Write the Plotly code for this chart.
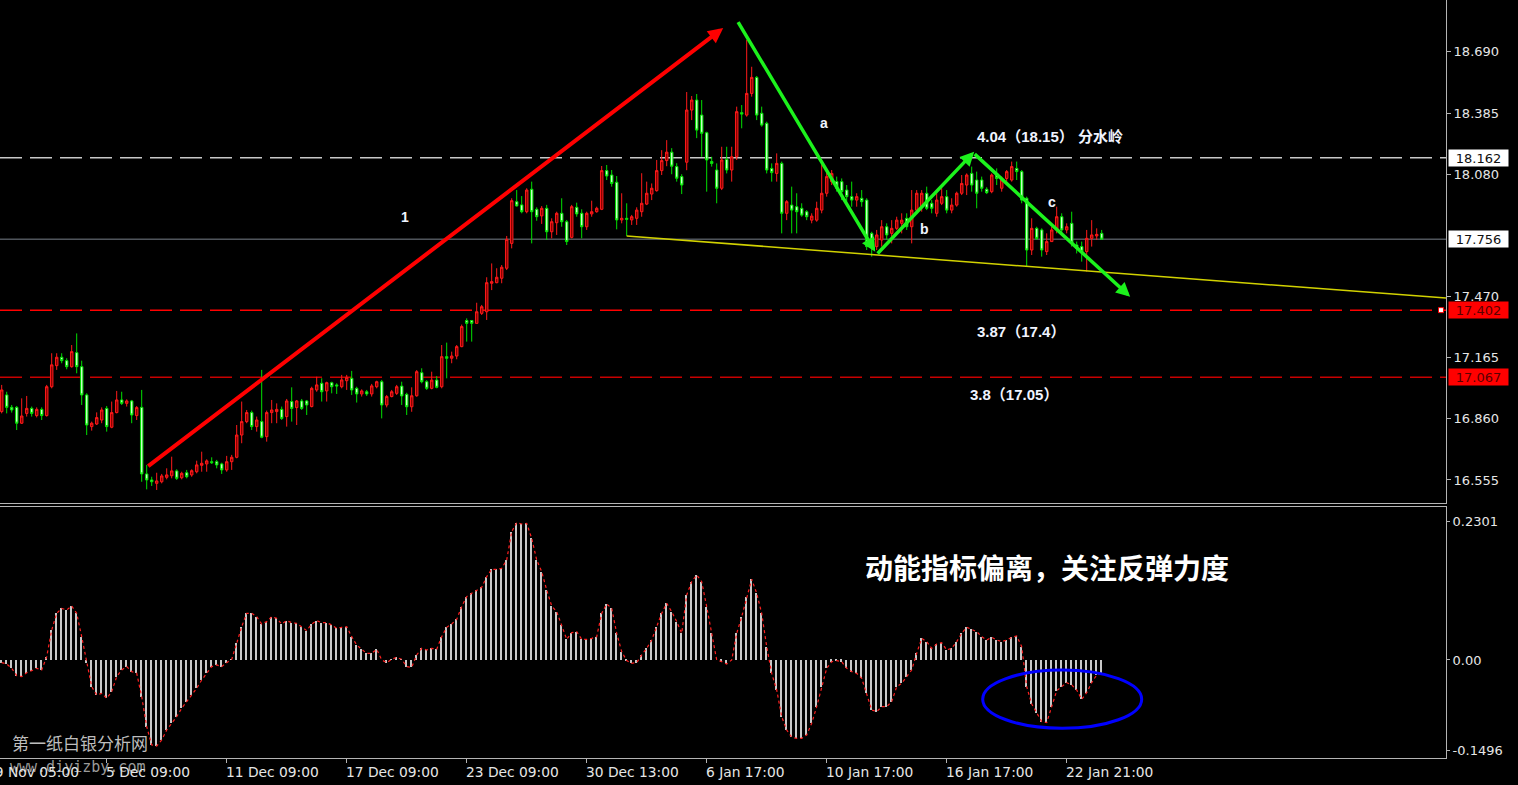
import plotly.graph_objects as go

# ---- 4H silver candles (bar index on x, price on y) ----
open_px = [
    16.896, 16.979, 16.917, 16.917, 16.838, 16.887, 16.912, 16.876, 16.907, 16.876,
    17.020, 17.125, 17.167, 17.150, 17.120, 17.190, 17.120, 16.979, 16.821, 16.834,
    16.854, 16.912, 16.818, 16.891, 16.954, 16.937, 16.949, 16.876, 16.917, 16.585,
    16.555, 16.538, 16.546, 16.568, 16.576, 16.600, 16.566, 16.591, 16.580, 16.596,
    16.628, 16.635, 16.646, 16.646, 16.635, 16.605, 16.646, 16.668, 16.779, 16.846,
    16.891, 16.821, 16.846, 16.771, 16.891, 16.896, 16.907, 16.871, 16.946, 16.916,
    16.949, 16.949, 16.921, 17.004, 17.037, 16.999, 17.040, 17.029, 17.020, 17.050,
    17.062, 17.012, 16.984, 16.995, 16.984, 17.020, 17.045, 16.929, 16.971, 16.987,
    17.023, 16.982, 16.920, 16.975, 17.090, 17.045, 17.012, 17.053, 17.020, 17.170,
    17.162, 17.173, 17.220, 17.350, 17.350, 17.336, 17.386, 17.394, 17.536, 17.539,
    17.561, 17.611, 17.735, 17.943, 17.927, 17.893, 18.005, 17.905, 17.872, 17.910,
    17.793, 17.838, 17.885, 17.843, 17.765, 17.915, 17.885, 17.818, 17.882, 17.893,
    17.905, 18.098, 18.076, 18.040, 17.852, 17.860, 17.852, 17.860, 17.893, 17.931,
    17.981, 17.998, 18.098, 18.148, 18.190, 18.118, 18.068, 18.140, 18.400, 18.450,
    18.375, 18.287, 18.143, 18.101, 18.010, 18.154, 18.101, 18.167, 18.387, 18.375,
    18.483, 18.563, 18.384, 18.334, 18.109, 18.084, 18.134, 17.885, 17.926, 17.918,
    17.910, 17.893, 17.851, 17.851, 17.901, 17.985, 18.043, 18.043, 18.043, 18.001,
    17.968, 17.951, 17.960, 17.951, 17.785, 17.719, 17.752, 17.818, 17.785, 17.810,
    17.835, 17.860, 17.818, 17.901, 17.918, 17.985, 17.935, 17.885, 17.935, 17.968,
    17.901, 17.926, 17.985, 18.026, 18.084, 18.051, 18.051, 18.005, 17.993, 18.084,
    18.010, 18.059, 18.051, 18.109, 18.093, 17.960, 17.702, 17.810, 17.802, 17.694,
    17.744, 17.802, 17.868, 17.802, 17.835, 17.727, 17.719, 17.694, 17.760, 17.772,
    17.785,
]
high_px = [
    17.029, 16.995, 16.929, 16.924, 16.962, 16.974, 16.921, 16.917, 16.917, 17.029,
    17.187, 17.187, 17.187, 17.162, 17.228, 17.286, 17.150, 16.987, 16.846, 16.892,
    16.917, 16.924, 16.946, 16.999, 16.995, 16.957, 16.954, 16.924, 17.004, 16.630,
    16.571, 16.591, 16.585, 16.613, 16.671, 16.608, 16.596, 16.605, 16.608, 16.651,
    16.696, 16.658, 16.668, 16.655, 16.641, 16.675, 16.680, 16.829, 16.946, 16.904,
    16.901, 16.871, 17.104, 16.901, 16.954, 16.937, 16.921, 16.959, 17.017, 16.954,
    16.959, 16.954, 17.020, 17.070, 17.062, 17.045, 17.045, 17.037, 17.079, 17.079,
    17.099, 17.020, 17.007, 17.004, 17.034, 17.050, 17.054, 16.979, 17.004, 17.029,
    17.045, 16.990, 17.017, 17.103, 17.112, 17.053, 17.095, 17.073, 17.228, 17.240,
    17.195, 17.228, 17.330, 17.361, 17.353, 17.439, 17.428, 17.566, 17.635, 17.611,
    17.627, 17.772, 17.960, 18.001, 17.971, 18.010, 18.043, 17.915, 17.921, 17.927,
    17.860, 17.893, 17.960, 17.852, 17.927, 17.938, 17.905, 17.893, 17.948, 17.918,
    18.121, 18.126, 18.101, 18.071, 17.985, 17.935, 17.877, 17.915, 18.085, 18.043,
    18.034, 18.151, 18.200, 18.250, 18.210, 18.135, 18.080, 18.490, 18.470, 18.480,
    18.450, 18.292, 18.167, 18.134, 18.217, 18.217, 18.217, 18.417, 18.425, 18.750,
    18.616, 18.570, 18.417, 18.342, 18.134, 18.184, 18.143, 17.951, 18.018, 17.985,
    17.935, 17.901, 17.885, 17.943, 18.134, 18.093, 18.101, 18.068, 18.059, 18.026,
    18.043, 17.985, 18.001, 17.960, 17.793, 17.802, 17.851, 17.835, 17.851, 17.868,
    17.885, 17.885, 18.001, 18.001, 18.001, 18.018, 17.951, 17.985, 18.010, 18.001,
    17.960, 17.993, 18.076, 18.084, 18.118, 18.093, 18.068, 18.015, 18.084, 18.109,
    18.068, 18.101, 18.143, 18.143, 18.101, 17.968, 17.860, 17.818, 17.810, 17.785,
    17.818, 17.918, 17.885, 17.835, 17.893, 17.744, 17.744, 17.802, 17.851, 17.810,
    17.802,
]
low_px = [
    16.887, 16.887, 16.891, 16.804, 16.834, 16.871, 16.871, 16.867, 16.854, 16.871,
    17.012, 17.104, 17.137, 17.107, 17.115, 17.087, 16.929, 16.779, 16.801, 16.829,
    16.838, 16.796, 16.813, 16.887, 16.929, 16.921, 16.838, 16.854, 16.546, 16.508,
    16.525, 16.505, 16.538, 16.558, 16.563, 16.555, 16.558, 16.563, 16.571, 16.588,
    16.596, 16.596, 16.635, 16.613, 16.585, 16.596, 16.605, 16.663, 16.738, 16.838,
    16.804, 16.796, 16.763, 16.746, 16.838, 16.838, 16.854, 16.821, 16.846, 16.829,
    16.904, 16.879, 16.917, 16.995, 16.946, 16.946, 16.987, 16.984, 17.012, 17.004,
    16.979, 16.941, 16.971, 16.974, 16.971, 17.012, 16.862, 16.917, 16.967, 16.979,
    16.929, 16.879, 16.895, 16.970, 17.037, 17.004, 17.007, 17.012, 17.012, 17.062,
    17.137, 17.157, 17.217, 17.245, 17.245, 17.336, 17.378, 17.353, 17.502, 17.536,
    17.536, 17.602, 17.710, 17.918, 17.885, 17.885, 17.735, 17.848, 17.832, 17.752,
    17.760, 17.777, 17.818, 17.727, 17.760, 17.868, 17.760, 17.802, 17.868, 17.888,
    17.901, 18.051, 18.018, 17.805, 17.835, 17.772, 17.827, 17.827, 17.868, 17.926,
    17.951, 17.993, 18.076, 18.120, 18.080, 18.043, 17.981, 18.100, 18.350, 18.260,
    18.167, 17.993, 18.118, 17.935, 18.001, 18.084, 18.043, 18.151, 18.309, 18.367,
    18.467, 18.350, 18.317, 18.084, 18.043, 18.043, 17.785, 17.851, 17.785, 17.785,
    17.868, 17.851, 17.835, 17.843, 17.885, 17.968, 18.026, 17.993, 17.951, 17.943,
    17.918, 17.918, 17.918, 17.702, 17.669, 17.702, 17.719, 17.752, 17.735, 17.802,
    17.785, 17.802, 17.735, 17.885, 17.893, 17.901, 17.885, 17.868, 17.926, 17.885,
    17.885, 17.918, 17.976, 17.976, 17.993, 17.910, 17.993, 17.981, 17.985, 18.026,
    17.993, 18.043, 18.043, 18.051, 17.935, 17.619, 17.677, 17.752, 17.669, 17.677,
    17.744, 17.785, 17.785, 17.785, 17.719, 17.685, 17.644, 17.594, 17.719, 17.752,
    17.752,
]
close_px = [
    17.004, 16.917, 16.904, 16.838, 16.874, 16.912, 16.887, 16.907, 16.876, 17.020,
    17.129, 17.167, 17.150, 17.120, 17.195, 17.120, 16.979, 16.829, 16.838, 16.866,
    16.904, 16.821, 16.891, 16.954, 16.937, 16.949, 16.879, 16.916, 16.585, 16.555,
    16.546, 16.550, 16.575, 16.580, 16.600, 16.563, 16.588, 16.571, 16.601, 16.630,
    16.638, 16.650, 16.641, 16.630, 16.605, 16.646, 16.668, 16.779, 16.846, 16.891,
    16.821, 16.854, 16.768, 16.891, 16.904, 16.907, 16.862, 16.949, 16.912, 16.949,
    16.912, 16.929, 17.012, 17.029, 16.995, 17.040, 17.020, 17.024, 17.054, 17.067,
    17.004, 16.984, 16.999, 16.984, 17.024, 17.045, 16.929, 16.971, 16.995, 17.020,
    16.974, 16.920, 16.975, 17.095, 17.045, 17.012, 17.053, 17.017, 17.170, 17.162,
    17.173, 17.220, 17.320, 17.336, 17.336, 17.394, 17.419, 17.539, 17.544, 17.566,
    17.616, 17.755, 17.948, 17.922, 17.893, 18.001, 17.893, 17.868, 17.910, 17.793,
    17.843, 17.885, 17.843, 17.744, 17.918, 17.882, 17.818, 17.885, 17.893, 17.910,
    18.098, 18.071, 18.034, 17.852, 17.860, 17.855, 17.868, 17.901, 17.935, 17.985,
    18.010, 18.098, 18.148, 18.190, 18.120, 18.060, 18.026, 18.400, 18.450, 18.300,
    18.284, 18.151, 18.134, 18.010, 18.151, 18.101, 18.167, 18.392, 18.380, 18.483,
    18.563, 18.375, 18.325, 18.101, 18.088, 18.134, 17.885, 17.943, 17.901, 17.893,
    17.876, 17.868, 17.871, 17.910, 17.985, 18.068, 18.084, 18.010, 17.993, 17.968,
    17.951, 17.968, 17.943, 17.719, 17.719, 17.777, 17.818, 17.777, 17.810, 17.851,
    17.851, 17.818, 17.901, 17.985, 17.985, 17.910, 17.910, 17.951, 17.968, 17.901,
    17.926, 17.985, 18.034, 18.076, 18.026, 17.985, 18.010, 17.988, 18.076, 18.059,
    18.051, 18.093, 18.118, 18.093, 17.951, 17.702, 17.810, 17.760, 17.702, 17.744,
    17.802, 17.868, 17.802, 17.818, 17.735, 17.710, 17.694, 17.760, 17.777, 17.780,
    17.756,
]

# ---- MACD histogram, one value per bar ----
macd_hist = [
    -0.0044, -0.0066, -0.0138, -0.0259, -0.0276, -0.0210, -0.0177, -0.0138, -0.0166, 0.0055,
    0.0497, 0.0773, 0.0855, 0.0828, 0.0894, 0.0773, 0.0386, -0.0055, -0.0442, -0.0579,
    -0.0552, -0.0635, -0.0524, -0.0276, -0.0166, -0.0110, -0.0193, -0.0221, -0.0607, -0.1104,
    -0.1407, -0.1424, -0.1325, -0.1159, -0.1049, -0.0938, -0.0800, -0.0690, -0.0579, -0.0469,
    -0.0331, -0.0221, -0.0110, -0.0083, -0.0110, -0.0044, 0.0011, 0.0276, 0.0552, 0.0773,
    0.0773, 0.0717, 0.0596, 0.0635, 0.0717, 0.0690, 0.0596, 0.0651, 0.0618, 0.0607,
    0.0541, 0.0486, 0.0596, 0.0651, 0.0618, 0.0618, 0.0579, 0.0524, 0.0541, 0.0552,
    0.0386, 0.0248, 0.0177, 0.0110, 0.0110, 0.0177, 0.0000, -0.0044, 0.0011, 0.0044,
    0.0011, -0.0110, -0.0121, 0.0083, 0.0193, 0.0166, 0.0193, 0.0177, 0.0386, 0.0541,
    0.0596, 0.0673, 0.0883, 0.1049, 0.1104, 0.1159, 0.1203, 0.1380, 0.1501, 0.1501,
    0.1518, 0.1656, 0.2125, 0.2274, 0.2252, 0.2263, 0.2014, 0.1656, 0.1462, 0.1159,
    0.0894, 0.0800, 0.0579, 0.0342, 0.0453, 0.0469, 0.0342, 0.0342, 0.0359, 0.0386,
    0.0773, 0.0927, 0.0855, 0.0442, 0.0138, -0.0011, -0.0055, -0.0044, 0.0083, 0.0193,
    0.0331, 0.0552, 0.0773, 0.0938, 0.0800, 0.0635, 0.0442, 0.1076, 0.1297, 0.1407,
    0.1297, 0.0883, 0.0442, 0.0000, -0.0028, -0.0066, 0.0000, 0.0442, 0.0717, 0.1049,
    0.1336, 0.1104, 0.0773, 0.0221, -0.0221, -0.0497, -0.0938, -0.1159, -0.1280, -0.1297,
    -0.1297, -0.1242, -0.1049, -0.0773, -0.0442, -0.0138, -0.0028, -0.0011, -0.0028, -0.0138,
    -0.0193, -0.0221, -0.0304, -0.0552, -0.0828, -0.0855, -0.0773, -0.0773, -0.0690, -0.0442,
    -0.0386, -0.0276, -0.0166, 0.0110, 0.0359, 0.0304, 0.0193, 0.0265, 0.0287, 0.0166,
    0.0193, 0.0304, 0.0442, 0.0541, 0.0508, 0.0469, 0.0386, 0.0331, 0.0375, 0.0331,
    0.0304, 0.0331, 0.0375, 0.0397, 0.0221, -0.0442, -0.0728, -0.0883, -0.1021, -0.1038,
    -0.0773, -0.0508, -0.0442, -0.0375, -0.0414, -0.0497, -0.0651, -0.0541, -0.0375, -0.0248,
    -0.0232,
]

# ---- axis labels ----
price_ticks = [16.555, 16.860, 17.165, 17.470, 18.080, 18.385, 18.690]
macd_ticks = [0.2301, 0.0, -0.1496]
macd_tick_text = ["0.2301", "0.00", "-0.1496"]
time_tick_bars = [-3, 21, 45, 69, 93, 117, 141, 165, 189, 213]
time_tick_text = ["29 Nov 05:00", "5 Dec 09:00", "11 Dec 09:00", "17 Dec 09:00",
                  "23 Dec 09:00", "30 Dec 13:00", "6 Jan 17:00", "10 Jan 17:00",
                  "16 Jan 17:00", "22 Jan 21:00"]

# ---- horizontal price levels ----
watershed_level = 18.162
last_price = 17.756
support_1 = 17.402
support_2 = 17.067

# ---- descending trend line (bar, price) ----
trend_start = (125, 17.772)
trend_end = (288.86, 17.462)

# ---- wave arrows: (tail bar, tail price, head bar, head price) ----
wave_up = (29.0, 16.618, 144.3, 18.809)
wave_a = (147.1, 18.846, 174.7, 17.693)
wave_b = (174.9, 17.677, 194.5, 18.192)
wave_c = (194.3, 18.187, 225.7, 17.469)

X_RANGE = [-0.34, 288.86]
PRICE_RANGE = [16.440, 18.949]
MACD_RANGE = [-0.1623, 0.2533]

bars = list(range(len(close_px)))
AXIS_GRAY = "#b4b4b4"
LABEL_COLOR = "#e6e6e6"
TICK_FONT = dict(family="DejaVu Sans", size=13, color=LABEL_COLOR)
TIME_FONT = dict(family="DejaVu Sans", size=13.8, color=LABEL_COLOR)

fig = go.Figure()

fig.add_trace(go.Candlestick(
    x=bars, open=open_px, high=high_px, low=low_px, close=close_px,
    increasing=dict(line=dict(color="#ff1a1a", width=1), fillcolor="#8c0000"),
    decreasing=dict(line=dict(color="#00e000", width=1), fillcolor="#c8ffc8"),
    whiskerwidth=0, xaxis="x", yaxis="y", showlegend=False, hoverinfo="skip",
))

# trend line
fig.add_trace(go.Scatter(
    x=[trend_start[0], trend_end[0]], y=[trend_start[1], trend_end[1]],
    mode="lines", line=dict(color="#d2d200", width=1.5),
    xaxis="x", yaxis="y", showlegend=False, hoverinfo="skip",
))

# small handle at the right end of the 17.402 level
fig.add_trace(go.Scatter(
    x=[X_RANGE[1] - 1], y=[support_1], mode="markers",
    marker=dict(symbol="square", size=5, color="white", line=dict(color="#ff0000", width=1)),
    xaxis="x", yaxis="y", showlegend=False, hoverinfo="skip",
))

# MACD histogram and its dotted trace
fig.add_trace(go.Bar(
    x=bars, y=macd_hist, width=0.3,
    marker=dict(color="#c8c8c8", line=dict(width=0)),
    xaxis="x2", yaxis="y2", showlegend=False, hoverinfo="skip",
))
fig.add_trace(go.Scatter(
    x=bars, y=macd_hist, mode="lines",
    line=dict(color="#ff2020", width=1.2, dash="dot"),
    xaxis="x2", yaxis="y2", showlegend=False, hoverinfo="skip",
))

shapes = [
    dict(type="line", xref="paper", x0=0, x1=1, yref="y", y0=watershed_level, y1=watershed_level,
         line=dict(color="#c8c8c8", width=1.5, dash="22px,8px"), layer="below"),
    dict(type="line", xref="paper", x0=0, x1=1, yref="y", y0=last_price, y1=last_price,
         line=dict(color="#78808a", width=1), layer="below"),
    dict(type="line", xref="paper", x0=0, x1=1, yref="y", y0=support_1, y1=support_1,
         line=dict(color="#ff0000", width=1.5, dash="22px,8px"), layer="below"),
    dict(type="line", xref="paper", x0=0, x1=1, yref="y", y0=support_2, y1=support_2,
         line=dict(color="#c80000", width=1.5, dash="22px,8px"), layer="below"),
    # divergence highlight
    dict(type="circle", xref="x2", yref="y2", x0=196.2, x1=228.0, y0=-0.1131, y1=-0.0166,
         line=dict(color="#0000ff", width=3)),
]

annotations = []

def arrow(seg, color, width, size):
    ax, ay, x, y = seg
    return dict(x=x, y=y, ax=ax, ay=ay, xref="x", yref="y", axref="x", ayref="y",
                text="", showarrow=True, arrowhead=2, arrowsize=size,
                arrowwidth=width, arrowcolor=color, standoff=0, startstandoff=0)

annotations.append(arrow(wave_up, "#ff0000", 4, 0.75))
for seg in (wave_a, wave_b, wave_c):
    annotations.append(arrow(seg, "#1cf21c", 3.5, 0.8))

def note(x, y, text, size=14, anchor="center"):
    return dict(x=x, y=y, xref="x", yref="y", text=text, showarrow=False,
                xanchor=anchor, yanchor="middle",
                font=dict(family="Liberation Sans, Noto Sans CJK SC", size=size, color="#f0f4ff"))

annotations += [
    note(80.7, 17.867, "<b>1</b>"),
    note(164.5, 18.335, "<b>a</b>"),
    note(184.5, 17.807, "<b>b</b>"),
    note(210.1, 17.941, "<b>c</b>"),
    note(194.7, 18.266, "<b>4.04（18.15） 分水岭</b>", 15, "left"),
    note(194.7, 17.293, "<b>3.87（17.4）</b>", 15, "left"),
    note(193.3, 16.979, "<b>3.8（17.05）</b>", 15, "left"),
]

annotations.append(dict(
    x=172.3, y=0.154, xref="x2", yref="y2", xanchor="left", yanchor="middle",
    text="<b>动能指标偏离，关注反弹力度</b>", showarrow=False,
    font=dict(family="Noto Sans CJK SC", size=28, color="#ffffff"),
))

# price boxes on the right scale
def price_box(level, bg, fg):
    return dict(x=1.0014, y=level, xref="paper", yref="y", xanchor="left", yanchor="middle",
                text=f"{level:.3f}", showarrow=False, bgcolor=bg, width=57, height=14,
                borderpad=1, font=dict(family="DejaVu Sans", size=13, color=fg))

annotations += [
    price_box(watershed_level, "#ffffff", "#101010"),
    price_box(last_price, "#ffffff", "#101010"),
    price_box(support_1, "#ff0000", "#5a0000"),
    price_box(support_2, "#ff0000", "#5a0000"),
]

# site watermark
annotations.append(dict(x=10 / 1446, y=0.0211, xref="paper", yref="paper", xanchor="left",
                        yanchor="middle", text="第一纸白银分析网", showarrow=False,
                        font=dict(family="Noto Sans CJK SC", size=17, color="#bdbdbd")))
annotations.append(dict(x=8 / 1446, y=-0.0119, xref="paper", yref="paper", xanchor="left",
                        yanchor="middle", text="www.diyizby.com", showarrow=False,
                        font=dict(family="DejaVu Sans Mono", size=15, color="#9a9a9a")))

# time labels start at their tick (placed in paper units so the first one may hang off the left edge)
x_span = X_RANGE[1] - X_RANGE[0]
for b, t in zip(time_tick_bars, time_tick_text):
    annotations.append(dict(x=(b - X_RANGE[0]) / x_span, y=-0.0185, xref="paper", yref="paper",
                            xanchor="left", yanchor="middle", xshift=-3, text=t,
                            showarrow=False, font=TIME_FONT))

fig.update_layout(
    width=1518, height=785,
    margin=dict(l=0, r=72, t=0, b=27),
    paper_bgcolor="#000000", plot_bgcolor="#000000",
    showlegend=False, hovermode=False, bargap=0,
    xaxis=dict(domain=[0, 1], range=X_RANGE, anchor="y", showgrid=False, zeroline=False,
               showline=True, linecolor=AXIS_GRAY, linewidth=1, showticklabels=False,
               ticks="", rangeslider=dict(visible=False), fixedrange=True),
    yaxis=dict(domain=[0.33641, 1], range=PRICE_RANGE, side="right", anchor="x",
               showgrid=False, zeroline=False, showline=True, linecolor=AXIS_GRAY,
               tickvals=price_ticks, ticktext=[f"{v:.3f}" for v in price_ticks],
               ticks="outside", ticklen=4, tickcolor=AXIS_GRAY, tickfont=TICK_FONT),
    xaxis2=dict(domain=[0, 1], range=X_RANGE, anchor="y2", matches="x", showgrid=False,
                zeroline=False, showline=True, mirror=True, linecolor=AXIS_GRAY,
                tickvals=time_tick_bars, ticks="outside", ticklen=4, tickcolor=AXIS_GRAY,
                showticklabels=False),
    yaxis2=dict(domain=[0, 0.33113], range=MACD_RANGE, side="right", anchor="x2",
                showgrid=False, zeroline=False, showline=True, linecolor=AXIS_GRAY,
                tickvals=macd_ticks, ticktext=macd_tick_text, ticks="outside", ticklen=3,
                tickcolor=AXIS_GRAY, tickfont=TICK_FONT),
    shapes=shapes,
    annotations=annotations,
)

fig.write_html("out.html")
